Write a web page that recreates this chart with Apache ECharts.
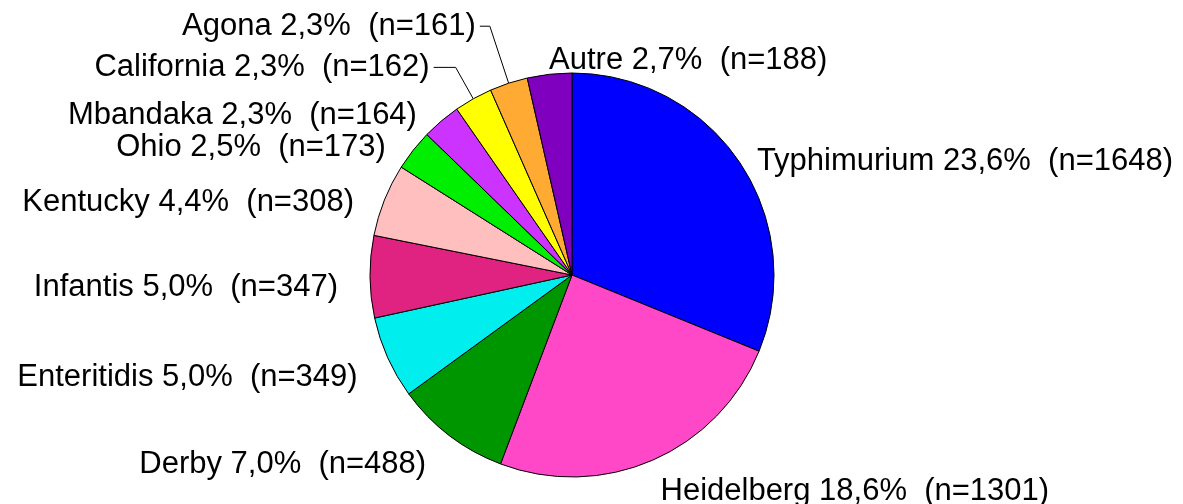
<!DOCTYPE html>
<html>
<head>
<meta charset="utf-8">
<script src="https://cdn.jsdelivr.net/npm/echarts@6/dist/echarts.min.js"></script>
<style>
  html, body { margin: 0; padding: 0; background: #fff; }
  #chart { width: 1183px; height: 504px; }
</style>
</head>
<body>
<div id="chart"></div>
<script>
  const serotypes = ['Typhimurium', 'Heidelberg', 'Derby', 'Enteritidis', 'Infantis', 'Kentucky', 'Ohio', 'Mbandaka', 'California', 'Agona', 'Autre'];
  const counts = [1648, 1301, 488, 349, 347, 308, 173, 164, 162, 161, 188];
  const percents = [23.6, 18.6, 7.0, 5.0, 5.0, 4.4, 2.5, 2.3, 2.3, 2.3, 2.7];
  const colors = ['#0000ff', '#ff48c8', '#009600', '#00eeee', '#e02280', '#ffbfbf', '#00ee00', '#cc33ff', '#ffff00', '#ffaa33', '#7f00bf'];

  // leader lines only on the two crowded slices
  const lineLen = { Agona: [60, 10], California: [36, 22] };

  const chart = echarts.init(document.getElementById('chart'), null, { renderer: 'canvas' });

  const fmtPct = (v) => v.toFixed(1).replace('.', ',');

  const data = serotypes.map((name, i) => {
    const item = {
      name,
      value: counts[i],
      itemStyle: { color: colors[i] },
    };
    if (lineLen[name]) {
      item.labelLine = { show: true, length: lineLen[name][0], length2: lineLen[name][1] };
    }
    return item;
  });

  chart.setOption({
    backgroundColor: '#fff',
    animation: false,
    series: [
      {
        type: 'pie',
        center: [572, 275],
        radius: 202,
        startAngle: 90,
        clockwise: true,
        avoidLabelOverlap: false,
        data,
        itemStyle: {
          borderColor: '#000',
          borderWidth: 1,
        },
        label: {
          show: true,
          position: 'outside',
          color: '#000',
          fontFamily: 'Liberation Sans, Arial, sans-serif',
          fontSize: 31,
          distanceToLabelLine: 4,
          formatter: (p) => `${p.name} ${fmtPct(percents[p.dataIndex])}%  (n=${p.value})`,
        },
        labelLine: {
          show: false,
          length: 22,
          length2: 0,
          smooth: false,
          lineStyle: { color: '#000', width: 1 },
        },
        labelLayout: (p) => {
          const name = serotypes[p.dataIndex];
          if (lineLen[name]) return { hideOverlap: false };
          if (name === 'Autre') {
            // sits to the right of the top of the pie, as in the original
            return {
              x: p.labelRect.x + p.labelRect.width + 6,
              y: p.labelRect.y + p.labelRect.height / 2 + 8,
              align: 'left',
              verticalAlign: 'middle',
              hideOverlap: false,
            };
          }
          const right = p.align === 'left';
          return { dx: right ? -5 : -6, dy: 11, hideOverlap: false };
        },
        emphasis: { disabled: true },
      },
    ],
  });
</script>
</body>
</html>
